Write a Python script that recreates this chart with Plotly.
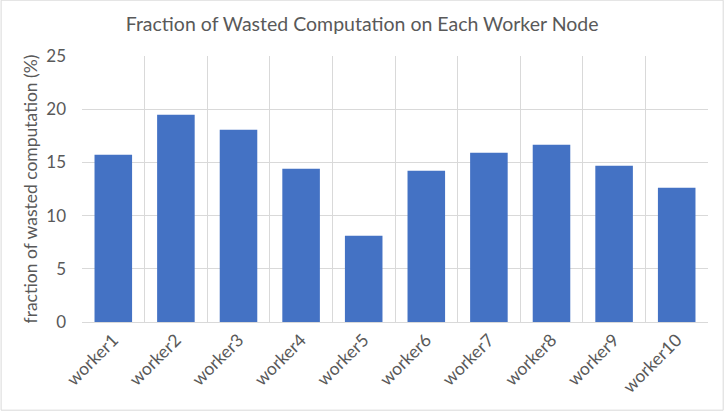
import plotly.graph_objects as go

workers = ["worker1", "worker2", "worker3", "worker4", "worker5",
           "worker6", "worker7", "worker8", "worker9", "worker10"]
wasted_pct = [15.72, 19.48, 18.07, 14.41, 8.1, 14.22, 15.91, 16.67, 14.69, 12.62]
y_ticks = [0, 5, 10, 15, 20, 25]

W, H = 728, 415
L, R, T, B = 81.5, W - 708.3, 56.3, H - 322.3
pw, ph = W - L - R, H - T - B

TXT = "#595959"
GRID = "#D9D9D9"
FONT = "Lato"

fig = go.Figure(go.Bar(x=workers, y=wasted_pct, marker_color="#4472C4",
                       marker_line_width=0))

fig.update_layout(
    width=W, height=H,
    margin=dict(l=L, r=R, t=T, b=B, pad=0),
    paper_bgcolor="white", plot_bgcolor="white",
    bargap=0.4,
    showlegend=False,
    font=dict(family=FONT, color=TXT),
    title=dict(text="Fraction of Wasted Computation on Each Worker Node",
               x=(362 - L) / pw * 1, xref="paper", xanchor="center",
               y=1 - 24 / H, yanchor="middle",
               font=dict(family=FONT, size=19.5, color=TXT)),
    xaxis=dict(tickangle=-45, tickson="boundaries", showgrid=True,
               gridcolor=GRID, gridwidth=1, showline=True, linecolor=GRID,
               linewidth=1, mirror=False, ticks="", zeroline=False,
               tickfont=dict(family=FONT, size=17.5, color=TXT)),
    yaxis=dict(range=[0, 25], tickvals=y_ticks, showgrid=True, gridcolor=GRID,
               gridwidth=1, zeroline=False, showline=False, ticks="",
               ticklabelstandoff=15,
               title=dict(text="fraction of wasted computation (%)",
                          font=dict(family=FONT, size=17.5, color=TXT),
                          standoff=4),
               tickfont=dict(family=FONT, size=17, color=TXT)),
    shapes=[
        dict(type="rect", xref="paper", yref="paper",
             x0=(0.5 - L) / pw, x1=(723.5 - L) / pw,
             y0=(H - B - 410.5) / ph, y1=(H - B - 0.5) / ph,
             line=dict(color=GRID, width=1), fillcolor="rgba(0,0,0,0)",
             layer="below"),
    ],
)

fig.write_html("out.html")
